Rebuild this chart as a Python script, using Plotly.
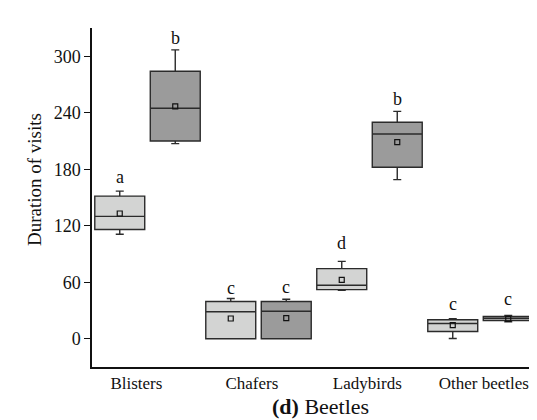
import plotly.graph_objects as go

# ---- data ----
categories = ["Blisters", "Chafers", "Ladybirds", "Other beetles"]
# where each category label sits along the x axis
category_label_pos = [-0.1, 0.94, 1.98, 3.03]

# light (first) series per category
light_q1 = [116, 0, 52.2, 7.7]
light_median = [130, 28.6, 56.8, 16.2]
light_q3 = [151.5, 39.5, 74.5, 20.1]
light_low = [111, 0, 51.5, 0.3]
light_high = [156.8, 42.7, 82.2, 21.2]
light_mean = [133, 21.5, 62.5, 14.4]
light_letters = ["a", "c", "d", "c"]
light_letter_y = [172, 53.5, 101.7, 37.4]

# dark (second) series per category
dark_q1 = [210, 0, 182.2, 19.2]
dark_median = [244.7, 29.2, 217.5, 21.6]
dark_q3 = [284, 39.5, 229.9, 23.6]
dark_low = [207.2, 0, 169, 18]
dark_high = [306.8, 42, 241.5, 24.7]
dark_mean = [246.8, 21.8, 208.7, 21.2]
dark_letters = ["b", "c", "b", "c"]
dark_letter_y = [319.5, 54.7, 255, 42.7]

y_ticks = [0, 60, 120, 180, 240, 300]

# ---- styling ----
FONT = "Liberation Serif, Times New Roman, serif"
LIGHT = "#d3d4d3"
DARK = "#9b9b9b"
EDGE = "#2b2b2b"
OFFSET = 0.25
BOXW = 0.45

fig = go.Figure()

def add_series(sign, fill, q1, med, q3, lo, hi, mean, letters, letter_y):
    for i in range(len(categories)):
        xpos = i + sign * OFFSET
        fig.add_trace(go.Box(
            x=[xpos], q1=[q1[i]], median=[med[i]], q3=[q3[i]],
            lowerfence=[lo[i]], upperfence=[hi[i]],
            width=BOXW, fillcolor=fill,
            line=dict(color=EDGE, width=1.4),
            whiskerwidth=0.16, boxpoints=False, showlegend=False,
            hoverinfo="skip",
        ))
        fig.add_trace(go.Scatter(
            x=[xpos], y=[mean[i]], mode="markers",
            marker=dict(symbol="square-open", size=5,
                        color="#111", line=dict(width=1.2, color="#111")),
            showlegend=False, hoverinfo="skip",
        ))
        fig.add_annotation(x=xpos, y=letter_y[i], text=letters[i],
                           showarrow=False, yanchor="middle",
                           font=dict(family=FONT, size=18, color="#111"))

add_series(-1, LIGHT, light_q1, light_median, light_q3, light_low,
           light_high, light_mean, light_letters, light_letter_y)
add_series(1, DARK, dark_q1, dark_median, dark_q3, dark_low,
           dark_high, dark_mean, dark_letters, dark_letter_y)

# the page body adds an 8px offset, so the figure is sized to fit the window
fig.update_layout(
    width=529, height=412,
    margin=dict(l=84, r=1, t=20, b=53),
    paper_bgcolor="white", plot_bgcolor="white",
    font=dict(family=FONT, size=18, color="#111"),
    xaxis=dict(
        range=[-0.5, 3.5], tickvals=category_label_pos,
        ticktext=categories, showgrid=False, zeroline=False,
        showline=True, linecolor="#111", linewidth=1.5,
        ticks="", tickfont=dict(size=17),
    ),
    yaxis=dict(
        range=[-30, 330], tickvals=y_ticks, showgrid=False, zeroline=False,
        showline=True, linecolor="#111", linewidth=1.5,
        ticks="outside", ticklen=6, tickwidth=1.2, tickcolor="#111",
        tickfont=dict(size=18),
    ),
    annotations=list(fig.layout.annotations) + [
        dict(text="Duration of visits", textangle=-90, xref="paper",
             yref="paper", x=-0.128, y=0.552, showarrow=False,
             xanchor="center", yanchor="middle",
             font=dict(family=FONT, size=19, color="#111")),
        dict(text="<b>(d)</b> Beetles", xref="paper", yref="paper",
             x=0.5146, y=-0.117, showarrow=False, xanchor="center",
             yanchor="middle", font=dict(family=FONT, size=22, color="#111")),
    ],
)

fig.write_html("out.html")
